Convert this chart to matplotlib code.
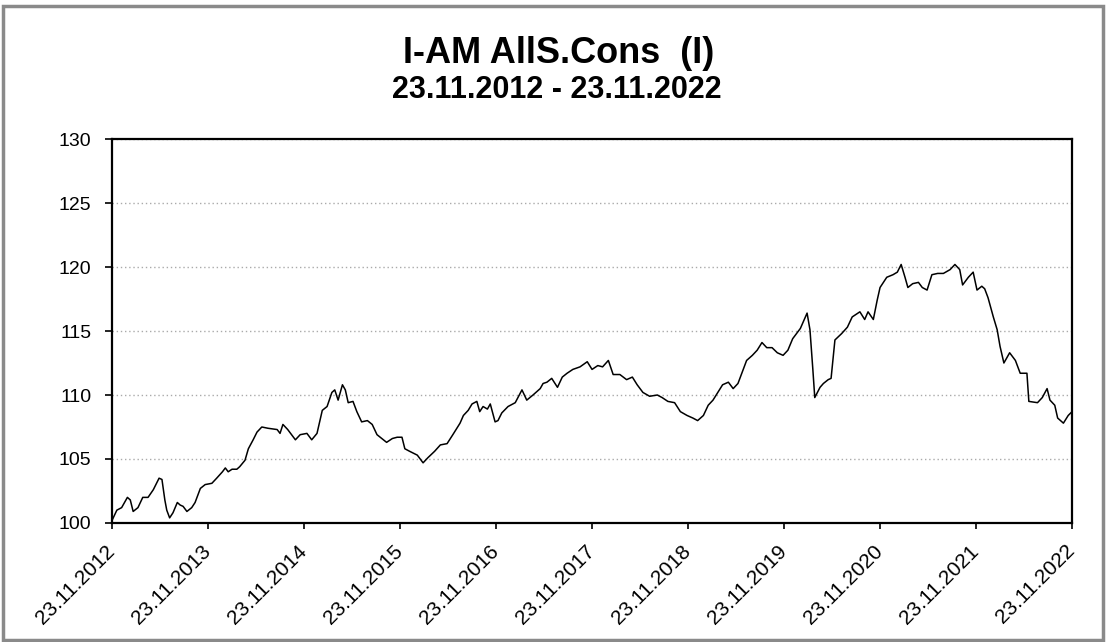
import matplotlib
matplotlib.use("Agg")
import matplotlib.pyplot as plt
from matplotlib.patches import Rectangle

plt.rcParams['font.family'] = ['Liberation Sans', 'DejaVu Sans']

# years elapsed since 23.11.2012 and index level
years = [0.00, 0.05, 0.10, 0.16, 0.19, 0.22, 0.27, 0.32, 0.375, 0.43,
         0.49, 0.52, 0.55, 0.57, 0.60, 0.635, 0.68, 0.71, 0.74, 0.78,
         0.83, 0.865, 0.92, 0.97, 1.04, 1.09, 1.15, 1.18, 1.21, 1.25,
         1.30, 1.33, 1.385, 1.42, 1.47, 1.51, 1.56, 1.625, 1.72, 1.75,
         1.78, 1.83, 1.91, 1.96, 2.03, 2.08, 2.135, 2.19, 2.24, 2.29,
         2.32, 2.355, 2.40, 2.43, 2.46, 2.51, 2.55, 2.60, 2.66, 2.71,
         2.76, 2.81, 2.86, 2.92, 2.97, 3.02, 3.05, 3.10, 3.18, 3.24,
         3.29, 3.36, 3.42, 3.49, 3.55, 3.625, 3.66, 3.71, 3.75, 3.80,
         3.83, 3.865, 3.91, 3.94, 3.99, 4.02, 4.06, 4.125, 4.20, 4.27,
         4.32, 4.385, 4.46, 4.49, 4.53, 4.58, 4.64, 4.69, 4.74, 4.80,
         4.875, 4.95, 5.00, 5.06, 5.11, 5.17, 5.22, 5.29, 5.36, 5.42,
         5.47, 5.53, 5.60, 5.68, 5.73, 5.79, 5.86, 5.92, 5.99, 6.05,
         6.10, 6.16, 6.21, 6.26, 6.31, 6.36, 6.42, 6.47, 6.52, 6.56,
         6.61, 6.67, 6.72, 6.77, 6.82, 6.875, 6.93, 6.99, 7.04, 7.09,
         7.17, 7.24, 7.27, 7.30, 7.32, 7.375, 7.41, 7.46, 7.49, 7.53,
         7.60, 7.66, 7.71, 7.79, 7.84, 7.875, 7.93, 7.97, 8.00, 8.07,
         8.135, 8.18, 8.22, 8.26, 8.29, 8.34, 8.40, 8.44, 8.49, 8.54,
         8.60, 8.66, 8.73, 8.78, 8.83, 8.86, 8.92, 8.97, 9.01, 9.06,
         9.09, 9.125, 9.18, 9.22, 9.25, 9.29, 9.35, 9.41, 9.46, 9.53,
         9.55, 9.64, 9.69, 9.74, 9.77, 9.82, 9.85, 9.91, 9.96, 10.00]
values = [100.2, 101.0, 101.2, 102.0, 101.8, 100.9, 101.2, 102.0, 102.0, 102.6,
          103.5, 103.4, 101.8, 101.0, 100.4, 100.8, 101.6, 101.4, 101.3, 100.9,
          101.2, 101.6, 102.7, 103.0, 103.1, 103.5, 104.0, 104.3, 104.0, 104.2,
          104.2, 104.4, 104.9, 105.8, 106.5, 107.1, 107.5, 107.4, 107.3, 107.0,
          107.7, 107.3, 106.5, 106.9, 107.0, 106.5, 107.0, 108.8, 109.1, 110.2,
          110.4, 109.6, 110.8, 110.4, 109.4, 109.5, 108.7, 107.9, 108.0, 107.7,
          106.9, 106.6, 106.3, 106.6, 106.7, 106.7, 105.8, 105.6, 105.3, 104.7,
          105.1, 105.6, 106.1, 106.2, 106.9, 107.8, 108.4, 108.8, 109.3, 109.5,
          108.7, 109.1, 108.9, 109.3, 107.9, 108.0, 108.6, 109.1, 109.4, 110.4,
          109.6, 110.0, 110.5, 110.9, 111.0, 111.3, 110.6, 111.4, 111.7, 112.0,
          112.2, 112.6, 112.0, 112.3, 112.2, 112.7, 111.6, 111.6, 111.2, 111.4,
          110.8, 110.2, 109.9, 110.0, 109.8, 109.5, 109.4, 108.7, 108.4, 108.2,
          108.0, 108.4, 109.2, 109.6, 110.2, 110.8, 111.0, 110.5, 110.9, 111.7,
          112.7, 113.1, 113.5, 114.1, 113.7, 113.7, 113.3, 113.1, 113.5, 114.4,
          115.2, 116.4, 115.1, 112.0, 109.8, 110.6, 110.9, 111.2, 111.3, 114.3,
          114.8, 115.3, 116.1, 116.5, 115.9, 116.5, 115.9, 117.4, 118.4, 119.2,
          119.4, 119.6, 120.2, 119.2, 118.4, 118.7, 118.8, 118.4, 118.2, 119.4,
          119.5, 119.5, 119.8, 120.2, 119.8, 118.6, 119.2, 119.6, 118.2, 118.5,
          118.3, 117.6, 116.1, 115.1, 113.8, 112.5, 113.3, 112.7, 111.7, 111.7,
          109.5, 109.4, 109.8, 110.5, 109.6, 109.2, 108.2, 107.8, 108.4, 108.7]

tick_years = list(range(11))
tick_labels = ['23.11.%d' % (2012 + k) for k in tick_years]
y_ticks = [100, 105, 110, 115, 120, 125, 130]

fig = plt.figure(figsize=(11.06, 6.42), dpi=100)
ax = fig.add_axes([0.1013, 0.1854, 0.868, 0.598])

ax.plot(years, values, color='black', linewidth=1.1)

ax.set_xlim(0, 10)
ax.set_ylim(100, 130)
ax.set_yticks(y_ticks)
ax.set_xticks(tick_years)
ax.set_xticklabels(tick_labels, rotation=45, ha='right', va='center',
                   rotation_mode='anchor', fontsize=15)
ax.tick_params(axis='x', direction='out', length=4, width=1.2, pad=14)
ax.tick_params(axis='y', direction='out', length=5, width=1.2, pad=10, labelsize=14)
ax.grid(axis='y', color='#aaaaaa', linestyle=(0, (1, 2)), linewidth=1)
for s in ax.spines.values():
    s.set_linewidth(1.6)

fig.text(0.505, 0.902, 'I-AM AllS.Cons  (I)', ha='center', va='baseline',
         fontsize=26, fontweight='bold')
fig.text(0.503, 0.847, '23.11.2012 - 23.11.2022', ha='center', va='baseline',
         fontsize=22, fontweight='bold')

# scanned page frame
fig.patches.append(Rectangle((0.003, 0.003), 0.994, 0.988, transform=fig.transFigure,
                             fill=False, edgecolor='#8a8a8a', linewidth=2.5))

fig.savefig('out.png', dpi=100)
